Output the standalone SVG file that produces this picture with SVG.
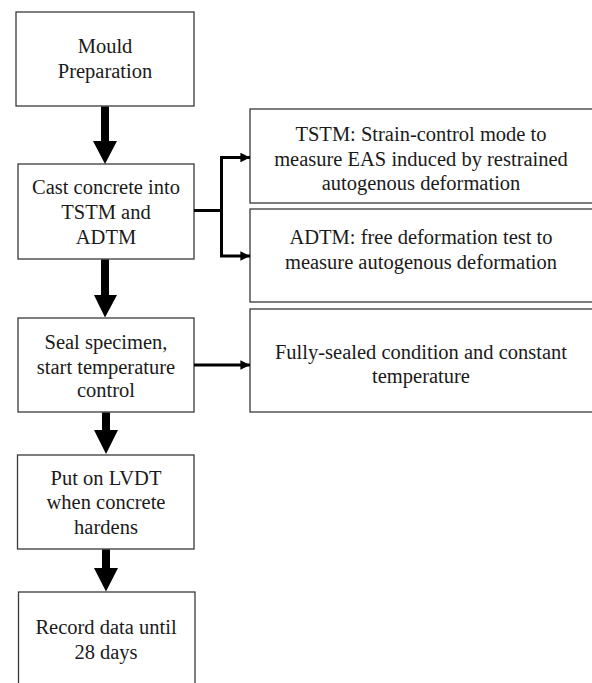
<svg xmlns="http://www.w3.org/2000/svg" width="592" height="683" viewBox="0 0 592 683" font-family="'Liberation Serif', 'Times New Roman', serif" font-size="20.5">
<defs>
<style>
.box{fill:#fff;stroke:#3a3a3a;stroke-width:1.3}
text{font-family:'Liberation Serif','Times New Roman',serif;font-size:20.5px;fill:#1a1a1a;text-anchor:middle}
.thin{fill:none;stroke:#000;stroke-width:3}
.big{fill:#000}
</style>
<marker id="ah" viewBox="0 0 10 10" refX="10" refY="5" markerWidth="3.2" markerHeight="3.2" orient="auto" markerUnits="strokeWidth">
<path d="M0,0 L10,5 L0,10 z" fill="#000"/>
</marker>
</defs>
<rect width="592" height="683" fill="#fff"/>
<g id="n1"><rect class="box" x="16" y="12" width="178" height="94"/>
<text x="105" y="53">Mould</text><text x="105" y="78">Preparation</text></g>
<g id="n2"><rect class="box" x="18" y="164" width="176" height="95"/>
<text x="106" y="194">Cast concrete into</text><text x="106" y="219">TSTM and</text><text x="106" y="243.5">ADTM</text></g>
<g id="n3"><rect class="box" x="18" y="318" width="176" height="94"/>
<text x="106" y="349">Seal specimen,</text><text x="106" y="373.5">start temperature</text><text x="106" y="397">control</text></g>
<g id="n4"><rect class="box" x="17.5" y="455" width="176.5" height="94"/>
<text x="106" y="484.5">Put on LVDT</text><text x="106" y="509">when concrete</text><text x="106" y="533.5">hardens</text></g>
<g id="n5"><rect class="box" x="18.5" y="592" width="176.5" height="100"/>
<text x="106" y="634">Record data until</text><text x="106" y="659">28 days</text></g>
<g id="n6"><rect class="box" x="250" y="109" width="344" height="94"/>
<text x="421" y="141">TSTM: Strain-control mode to</text><text x="421" y="165.5">measure EAS induced by restrained</text><text x="421" y="190">autogenous deformation</text></g>
<g id="n7"><rect class="box" x="250" y="209" width="344" height="93"/>
<text x="421" y="244">ADTM: free deformation test to</text><text x="421" y="269">measure autogenous deformation</text></g>
<g id="n8"><rect class="box" x="250" y="309" width="344" height="103"/>
<text x="421" y="359">Fully-sealed condition and constant</text><text x="421" y="383">temperature</text></g>
<g id="connectors">
<polygon class="big" points="101,106.5 109,106.5 109,141 117,141 105,164 93,141 101,141"/>
<polygon class="big" points="101,259.5 109,259.5 109,295 117,295 105,317.5 94,295 101,295"/>
<polygon class="big" points="102,412.5 110,412.5 110,430 118,430 106,454 94,430 102,430"/>
<polygon class="big" points="102,549.5 110,549.5 110,568 118,568 106,591.5 94,568 102,568"/>
<path class="thin" d="M194,210.5 H221.5"/>
<path class="thin" d="M221.5,256 V157.5 H250" marker-end="url(#ah)"/>
<path class="thin" d="M221.5,157.5 V256 H250" marker-end="url(#ah)"/>
<path class="thin" d="M194,365 H250" marker-end="url(#ah)"/>
</g>
</svg>
